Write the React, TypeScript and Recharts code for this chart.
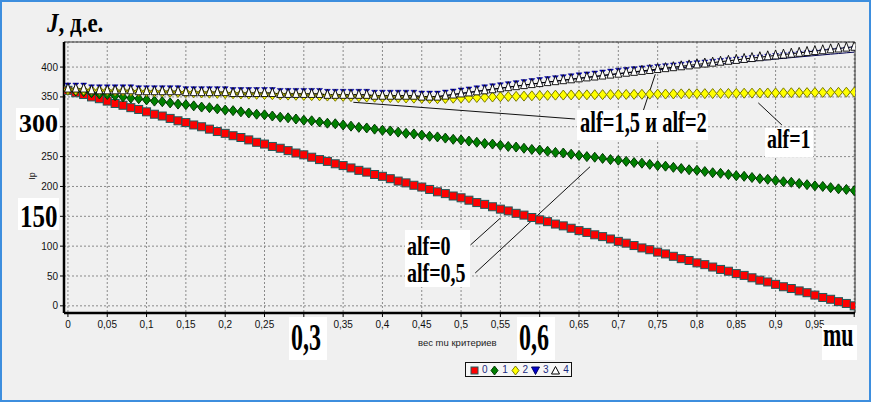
import React from 'react';
import { ComposedChart, Line, XAxis, YAxis, CartesianGrid, ReferenceLine } from 'recharts';

// weight mu of criteria (x values)
const MU = [
  0, 0.01, 0.02, 0.03, 0.04, 0.05, 0.06, 0.07, 0.08, 0.09,
  0.1, 0.11, 0.12, 0.13, 0.14, 0.15, 0.16, 0.17, 0.18, 0.19,
  0.2, 0.21, 0.22, 0.23, 0.24, 0.25, 0.26, 0.27, 0.28, 0.29,
  0.3, 0.31, 0.32, 0.33, 0.34, 0.35, 0.36, 0.37, 0.38, 0.39,
  0.4, 0.41, 0.42, 0.43, 0.44, 0.45, 0.46, 0.47, 0.48, 0.49,
  0.5, 0.51, 0.52, 0.53, 0.54, 0.55, 0.56, 0.57, 0.58, 0.59,
  0.6, 0.61, 0.62, 0.63, 0.64, 0.65, 0.66, 0.67, 0.68, 0.69,
  0.7, 0.71, 0.72, 0.73, 0.74, 0.75, 0.76, 0.77, 0.78, 0.79,
  0.8, 0.81, 0.82, 0.83, 0.84, 0.85, 0.86, 0.87, 0.88, 0.89,
  0.9, 0.91, 0.92, 0.93, 0.94, 0.95, 0.96, 0.97, 0.98, 0.99,
  1,
];

// series "0" (alf=0)
const ALF_0 = [
  361, 357, 354, 350, 347, 343, 339, 336, 332, 329,
  325, 321, 318, 314, 310, 307, 303, 300, 296, 292,
  289, 285, 282, 278, 274, 271, 267, 264, 260, 256,
  253, 249, 245, 242, 238, 235, 231, 227, 224, 220,
  217, 213, 209, 206, 202, 199, 195, 191, 188, 184,
  181, 177, 173, 170, 166, 162, 159, 155, 152, 148,
  144, 141, 137, 134, 130, 126, 123, 119, 116, 112,
  108, 105, 101, 97, 94, 90, 87, 83, 79, 76,
  72, 69, 65, 61, 58, 54, 51, 47, 43, 40,
  36, 32, 29, 25, 22, 18, 14, 11, 7, 4,
  0,
];

// series "1" (alf=0,5)
const ALF_05 = [
  362, 360, 359, 357, 355, 354, 352, 350, 348, 347,
  345, 343, 342, 340, 338, 337, 335, 333, 332, 330,
  328, 327, 325, 323, 321, 320, 318, 316, 315, 313,
  311, 310, 308, 306, 305, 303, 301, 299, 298, 296,
  294, 293, 291, 289, 288, 286, 284, 283, 281, 279,
  278, 276, 274, 272, 271, 269, 267, 266, 264, 262,
  261, 259, 257, 256, 254, 252, 250, 249, 247, 245,
  244, 242, 240, 239, 237, 235, 234, 232, 230, 228,
  227, 225, 223, 222, 220, 218, 217, 215, 213, 212,
  210, 208, 207, 205, 203, 201, 200, 198, 196, 195,
  193,
];

// series "2" (alf=1)
const ALF_1 = [
  362.0, 361.7, 361.4, 361.0, 360.7, 360.4, 360.1, 359.8, 359.4, 359.1,
  358.8, 358.5, 358.2, 357.8, 357.5, 357.2, 356.9, 356.6, 356.2, 355.9,
  355.6, 355.3, 355.0, 354.6, 354.3, 354.0, 353.7, 353.4, 353.0, 352.7,
  352.4, 352.1, 351.8, 351.4, 351.1, 350.8, 350.5, 350.2, 349.8, 349.5,
  349.2, 348.9, 348.6, 348.2, 347.9, 347.6, 347.3, 347.0, 347.4, 347.8,
  348.2, 348.6, 349.0, 349.4, 349.8, 350.2, 350.6, 351.0, 351.4, 351.8,
  352.2, 352.6, 353.0, 353.1, 353.3, 353.4, 353.5, 353.7, 353.8, 353.9,
  354.1, 354.2, 354.3, 354.4, 354.6, 354.7, 354.8, 355.0, 355.1, 355.2,
  355.4, 355.5, 355.6, 355.8, 355.9, 356.0, 356.2, 356.3, 356.4, 356.6,
  356.7, 356.8, 357.0, 357.1, 357.2, 357.4, 357.5, 357.6, 357.7, 357.9,
  358.0,
];

// series "3" (alf=1,5)
const ALF_15 = [
  364, 364, 364, 361, 361, 361, 361, 361, 361, 359.5,
  359.5, 359.5, 359.5, 359.5, 359.5, 358, 358, 358, 358, 358,
  358, 356.5, 356.5, 356.5, 356.5, 356.5, 356.5, 355, 355, 355,
  355, 355, 355, 353.5, 353.5, 353.5, 353.5, 353.5, 353.5, 352,
  352, 352, 352, 352, 352, 350.5, 350.5, 350.5, 352.2, 354.0,
  355.8, 357.5, 359.3, 361.0, 362.8, 364.5, 366.3, 368.0, 369.8, 371.5,
  373.2, 374.8, 376.4, 378.0, 379.5, 381.1, 382.7, 384.2, 385.8, 387.4,
  388.9, 390.2, 391.4, 392.7, 393.9, 395.2, 396.4, 397.7, 398.9, 400.1,
  401.4, 402.6, 403.8, 405.1, 406.3, 407.5, 408.8, 410.0, 411.1, 412.3,
  413.5, 414.6, 415.8, 417.0, 418.1, 419.3, 420.4, 421.6, 422.7, 423.9,
  425.0,
];

// series "4" (alf=2)
const ALF_2 = [
  364, 364, 364, 361, 361, 361, 361, 361, 361, 359.5,
  359.5, 359.5, 359.5, 359.5, 359.5, 358, 358, 358, 358, 358,
  358, 356.5, 356.5, 356.5, 356.5, 356.5, 356.5, 355, 355, 355,
  355, 355, 355, 353.5, 353.5, 353.5, 353.5, 353.5, 353.5, 352,
  352, 352, 352, 352, 352, 350.5, 350.5, 350.5, 352.2, 354.0,
  355.8, 357.5, 359.3, 361.0, 362.8, 364.5, 366.3, 368.0, 369.8, 371.5,
  373.2, 374.8, 376.4, 378.0, 379.5, 381.1, 382.7, 384.2, 385.8, 387.4,
  388.9, 390.5, 392.0, 393.6, 395.1, 396.7, 398.2, 399.8, 401.3, 402.8,
  404.4, 405.9, 407.4, 409.0, 410.5, 412.0, 413.6, 415.1, 416.5, 418.0,
  419.5, 420.9, 422.4, 423.9, 425.3, 426.8, 428.2, 429.7, 431.1, 432.6,
  434.0,
];

const X_TICKS = [0, 0.05, 0.1, 0.15, 0.2, 0.25, 0.3, 0.35, 0.4, 0.45, 0.5, 0.55, 0.6, 0.65, 0.7, 0.75, 0.8, 0.85, 0.9, 0.95, 1];
// 0,3 and 0,6 are covered by the large annotation boxes in the original
const X_TICK_LABELS = ['0', '0,05', '0,1', '0,15', '0,2', '0,25', '', '0,35', '0,4', '0,45', '0,5', '0,55', '', '0,65', '0,7', '0,75', '0,8', '0,85', '0,9', '0,95', ''];
const Y_TICKS = [0, 50, 100, 150, 200, 250, 300, 350, 400];
// 150 and 300 are covered by the large annotation boxes in the original
const Y_TICK_LABELS = ['0', '50', '100', '', '200', '250', '', '350', '400'];
const SERIES_NAMES = ['0', '1', '2', '3', '4'];

// leader lines of the annotations, in data units [mu, value]
const LEADERS = [
  [[0.363, 341], [0.645, 313]],
  [[0.732, 328], [0.747, 388]],
  [[0.878, 340], [0.908, 303]],
  [[0.512, 102], [0.55, 147]],
  [[0.518, 55], [0.664, 233]],
];

const data = MU.map((mu, i) => ({
  mu,
  s0: ALF_0[i],
  s1: ALF_05[i],
  s2: ALF_1[i],
  s3: ALF_15[i],
  s4: ALF_2[i],
}));

const squareDot = (p: any) => (
  <rect key={`a${p.index}`} x={p.cx - 4} y={p.cy - 4} width={8} height={8} fill="#ff0000" stroke="#1f5a5a" strokeWidth={1} />
);
const diamondDot = (fill: string, stroke: string) => (p: any) => (
  <path key={`b${p.index}`} d={`M${p.cx},${p.cy - 5}L${p.cx + 4},${p.cy}L${p.cx},${p.cy + 5}L${p.cx - 4},${p.cy}Z`} fill={fill} stroke={stroke} strokeWidth={1} />
);
const triDownDot = (p: any) => (
  <path key={`c${p.index}`} d={`M${p.cx - 3},${p.cy - 5.5}L${p.cx + 3},${p.cy - 5.5}L${p.cx},${p.cy - 2}Z`} fill="#0000cc" stroke="#000080" strokeWidth={0.5} />
);
const triUpDot = (p: any) => (
  <path key={`d${p.index}`} d={`M${p.cx},${p.cy - 5.5}L${p.cx + 3.4},${p.cy + 3.5}L${p.cx - 3.4},${p.cy + 3.5}Z`} fill="#ffffff" stroke="#000000" strokeWidth={0.9} />
);

const SERIF = "'Liberation Serif', 'Times New Roman', serif";
const SANS = "'Liberation Sans', Arial, sans-serif";

function Note(props: { x: number; y: number; w: number; h: number; tx: number; ty: number; size: number; sy: number; children: React.ReactNode; bg?: string }) {
  const { x, y, w, h, tx, ty, size, sy, children, bg } = props;
  return (
    <div style={{ position: 'absolute', left: x, top: y, width: w, height: h, background: bg ?? '#ffffff' }}>
      <div
        style={{
          position: 'absolute',
          left: tx - x,
          top: ty - y,
          fontFamily: SERIF,
          fontWeight: 'bold',
          fontSize: size,
          lineHeight: 1,
          whiteSpace: 'nowrap',
          color: '#000',
          transform: `scaleY(${sy})`,
          transformOrigin: '0 0',
        }}
      >
        {children}
      </div>
    </div>
  );
}

const legendIcon = (i: number) => {
  if (i === 0) return <rect x={1} y={1} width={7} height={7} fill="#ff0000" stroke="#1f5a5a" />;
  if (i === 1) return <path d="M4.5,0L8,4.5L4.5,9L1,4.5Z" fill="#008000" stroke="#003800" />;
  if (i === 2) return <path d="M4.5,0L8,4.5L4.5,9L1,4.5Z" fill="#ffff00" stroke="#7a7a00" />;
  if (i === 3) return <path d="M0.5,1L8.5,1L4.5,8.5Z" fill="#0000cc" stroke="#000060" />;
  return <path d="M4.5,0.5L8.5,8L0.5,8Z" fill="#ffffff" stroke="#000" />;
};

export default function App() {
  return (
    <div style={{ position: 'absolute', left: 0, top: 0, width: 882, height: 406, background: '#ffffff', overflow: 'hidden' }}>
      <div style={{ position: 'absolute', left: 0, top: 0, width: 871, height: 402, boxSizing: 'border-box', border: '2px solid #3d8ede', background: '#f0f0f0' }} />
      <div style={{ position: 'absolute', left: 0, top: 0 }}>
        <ComposedChart width={882} height={406} data={data} margin={{ top: 42, right: 27, bottom: 63, left: 34 }}>
          <CartesianGrid stroke="#8a8a8a" strokeDasharray="2 2" />
          <XAxis
            xAxisId="minor"
            dataKey="mu"
            type="number"
            domain={[-0.005, 1.001]}
            ticks={MU}
            tick={false}
            tickSize={3}
            mirror
            axisLine={false}
            tickLine={{ stroke: '#333' }}
            height={0}
          />
          <XAxis
            dataKey="mu"
            type="number"
            domain={[-0.005, 1.001]}
            ticks={X_TICKS}
            interval={0}
            tickFormatter={(v: number) => X_TICK_LABELS[X_TICKS.indexOf(v)] ?? ''}
            tick={{ fontSize: 10, fontFamily: SANS, fill: '#111' }}
            tickSize={4}
            tickMargin={4}
            axisLine={{ stroke: '#000', strokeWidth: 2.5 }}
            tickLine={{ stroke: '#000' }}
            height={30}
            allowDataOverflow
          />
          <YAxis
            type="number"
            domain={[-12, 442]}
            ticks={Y_TICKS}
            interval={0}
            tickFormatter={(v: number) => Y_TICK_LABELS[Y_TICKS.indexOf(v)] ?? ''}
            tick={{ fontSize: 10, fontFamily: SANS, fill: '#111' }}
            tickSize={4}
            tickMargin={2}
            axisLine={{ stroke: '#000', strokeWidth: 2.5 }}
            tickLine={{ stroke: '#000' }}
            width={30}
            allowDataOverflow
          />
          <ReferenceLine y={442} stroke="#333" strokeWidth={1} />
          <ReferenceLine x={1.001} stroke="#333" strokeWidth={1} />
          {LEADERS.map((s, i) => (
            <ReferenceLine
              key={`l${i}`}
              segment={[{ x: s[0][0], y: s[0][1] }, { x: s[1][0], y: s[1][1] }]}
              stroke="#111"
              strokeWidth={1}
            />
          ))}
          <Line dataKey="s0" name={SERIES_NAMES[0]} stroke="#1f5a5a" strokeWidth={1} dot={squareDot} activeDot={false} isAnimationActive={false} />
          <Line dataKey="s1" name={SERIES_NAMES[1]} stroke="#004000" strokeWidth={1} dot={diamondDot('#008000', '#003800')} activeDot={false} isAnimationActive={false} />
          <Line dataKey="s2" name={SERIES_NAMES[2]} stroke="#6a6a00" strokeWidth={1} dot={diamondDot('#ffff00', '#7a7a00')} activeDot={false} isAnimationActive={false} />
          <Line dataKey="s3" name={SERIES_NAMES[3]} stroke="#000050" strokeWidth={1} dot={triDownDot} activeDot={false} isAnimationActive={false} />
          <Line dataKey="s4" name={SERIES_NAMES[4]} stroke="#000000" strokeWidth={1} dot={triUpDot} activeDot={false} isAnimationActive={false} />
        </ComposedChart>
      </div>

      {/* axis titles */}
      <div style={{ position: 'absolute', left: 28, top: 171, fontFamily: SANS, fontSize: 9, color: '#222', transform: 'rotate(-90deg)', transformOrigin: '50% 50%' }}>Ip</div>
      <div style={{ position: 'absolute', left: 418, top: 337, fontFamily: SANS, fontSize: 9.5, color: '#222', whiteSpace: 'nowrap' }}>вес mu критериев</div>

      {/* annotations */}
      <Note x={44} y={8} w={70} h={30} tx={47} ty={10} size={23} sy={1.18} bg="transparent">
        <span style={{ fontStyle: 'italic' }}>J</span>, д.е.
      </Note>
      <Note x={16} y={108} w={43} h={32} tx={19} ty={111} size={26} sy={1}>300</Note>
      <Note x={18} y={198} w={41} h={32} tx={20} ty={201} size={25} sy={1.24}>150</Note>
      <Note x={289} y={317} w={38} h={43} tx={291} ty={319} size={24} sy={1.54}>0,3</Note>
      <Note x={517} y={317} w={38} h={43} tx={519} ty={319} size={24} sy={1.54}>0,6</Note>
      <Note x={822} y={325} w={35} h={35} tx={823} ty={319} size={22} sy={1.5}>mu</Note>
      <Note x={577} y={110} w={131} h={30} tx={580} ty={108} size={20.5} sy={1.43}>alf=1,5 и alf=2</Note>
      <Note x={765} y={128} w={48} h={29} tx={767} ty={124} size={20} sy={1.4}>alf=1</Note>
      <Note x={405} y={230} w={65} h={57} tx={407} ty={233} size={20} sy={1.32}>
        alf=0
      </Note>
      <Note x={405} y={258} w={65} h={29} tx={407} ty={260} size={20} sy={1.32}>
        alf=0,5
      </Note>

      {/* legend */}
      <div style={{ position: 'absolute', left: 465, top: 362, width: 107, height: 15, boxSizing: 'border-box', border: '1px solid #111', background: '#f6f6f6' }}>
        {SERIES_NAMES.map((n, i) => (
          <div key={n} style={{ position: 'absolute', left: 4 + i * 20.3, top: 1, height: 12, display: 'flex', alignItems: 'center', gap: 3 }}>
            <svg width={9} height={9}>{legendIcon(i)}</svg>
            <span style={{ fontFamily: SANS, fontSize: 10, color: '#1a2a80', lineHeight: '12px' }}>{n}</span>
          </div>
        ))}
      </div>
    </div>
  );
}
